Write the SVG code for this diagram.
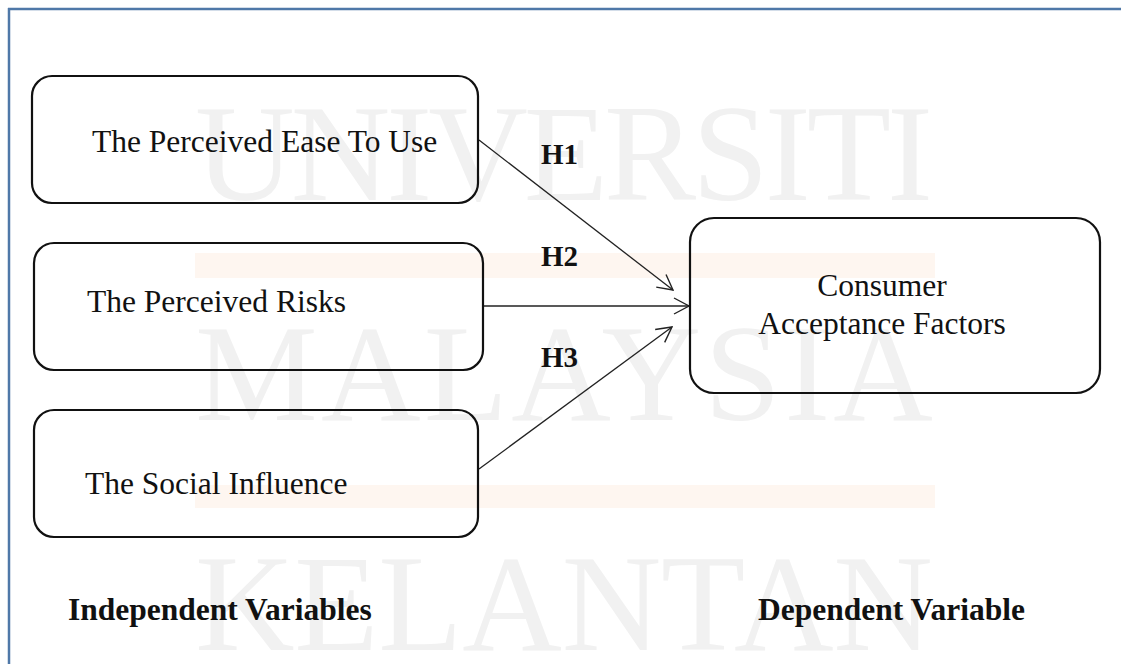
<svg xmlns="http://www.w3.org/2000/svg" width="1121" height="664" viewBox="0 0 1121 664">
  <style>
    .node { fill: none; stroke: #111; stroke-width: 2.2; }
    .lbl { font-family: "Liberation Serif", "Times New Roman", serif; font-size: 31.5px; fill: #111; }
    .bold { font-family: "Liberation Serif", "Times New Roman", serif; font-size: 31.5px; font-weight: bold; fill: #111; }
    .h { font-family: "Liberation Serif", "Times New Roman", serif; font-size: 29px; font-weight: bold; fill: #111; }
    .wm { font-family: "Liberation Serif", "Times New Roman", serif; font-size: 138px; fill: #f1f1f1; }
    .conn { stroke: #222; stroke-width: 1.3; fill: none; marker-end: url(#arrow); }
  </style>
  <defs>
    <marker id="arrow" viewBox="0 0 17 18" refX="16" refY="9" markerWidth="17" markerHeight="18" markerUnits="userSpaceOnUse" orient="auto">
      <path d="M1,1 L16,9 L1,17" fill="none" stroke="#222" stroke-width="1.4"/>
    </marker>
  </defs>
  <rect x="0" y="0" width="1121" height="664" fill="#ffffff"/>

  <g id="watermark">
    <rect x="195" y="253" width="740" height="25" fill="#fef6f0"/>
    <rect x="195" y="485" width="740" height="23" fill="#fef6f0"/>
    <text class="wm" x="195" y="200" textLength="738" lengthAdjust="spacing">UNIVERSITI</text>
    <text class="wm" x="195" y="420" textLength="738" lengthAdjust="spacing">MALAYSIA</text>
    <text class="wm" x="195" y="650" textLength="738" lengthAdjust="spacing">KELANTAN</text>
  </g>

  <g id="frame">
    <line x1="8" y1="9" x2="1121" y2="9" stroke="#4f78a8" stroke-width="2.5"/>
    <line x1="9" y1="8" x2="9" y2="664" stroke="#4f78a8" stroke-width="2.5"/>
  </g>

  <g id="connectors">
    <line class="conn" x1="479" y1="140" x2="673" y2="290"/>
    <line class="conn" x1="483" y1="306" x2="689" y2="306"/>
    <line class="conn" x1="479" y1="469" x2="672" y2="327"/>
  </g>

  <g id="node-ease">
    <rect class="node" x="32" y="76" width="446" height="127" rx="20"/>
    <text class="lbl" x="92" y="152">The Perceived Ease To Use</text>
  </g>
  <g id="node-risks">
    <rect class="node" x="34" y="243" width="449" height="127" rx="20"/>
    <text class="lbl" x="87" y="312">The Perceived Risks</text>
  </g>
  <g id="node-social">
    <rect class="node" x="34" y="410" width="444" height="127" rx="20"/>
    <text class="lbl" x="85" y="494">The Social Influence</text>
  </g>
  <g id="node-consumer">
    <rect class="node" x="690" y="218" width="410" height="175" rx="24"/>
    <text class="lbl" x="882" y="296" text-anchor="middle">Consumer</text>
    <text class="lbl" x="882" y="334" text-anchor="middle">Acceptance Factors</text>
  </g>

  <g id="hyp-labels">
    <text class="h" x="541" y="164">H1</text>
    <text class="h" x="541" y="266">H2</text>
    <text class="h" x="541" y="367">H3</text>
  </g>

  <g id="captions">
    <text class="bold" x="68" y="620">Independent Variables</text>
    <text class="bold" x="758" y="620">Dependent Variable</text>
  </g>
</svg>
